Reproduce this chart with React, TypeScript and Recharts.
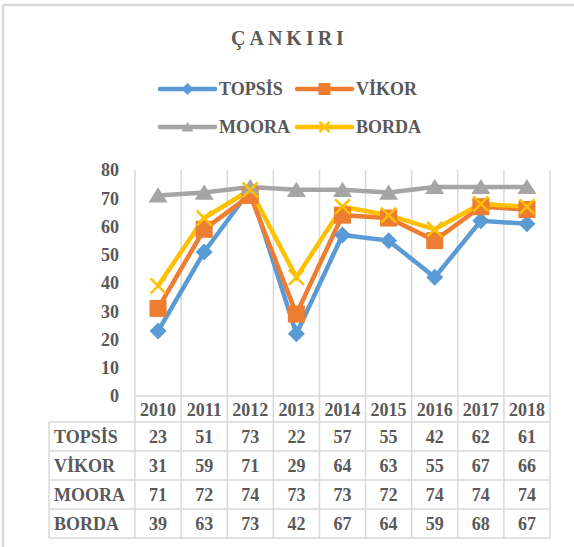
import { CartesianGrid, Line, LineChart, XAxis, YAxis } from "recharts";

const YEARS = ["2010", "2011", "2012", "2013", "2014", "2015", "2016", "2017", "2018"];
const TOPSIS = [23, 51, 73, 22, 57, 55, 42, 62, 61];
const VIKOR = [31, 59, 71, 29, 64, 63, 55, 67, 66];
const MOORA = [71, 72, 74, 73, 73, 72, 74, 74, 74];
const BORDA = [39, 63, 73, 42, 67, 64, 59, 68, 67];
const Y_TICKS = [0, 10, 20, 30, 40, 50, 60, 70, 80];

const SERIES = [
  { key: "TOPSIS", name: "TOPSİS", values: TOPSIS, color: "#5B9BD5", marker: "diamond" },
  { key: "VIKOR", name: "VİKOR", values: VIKOR, color: "#ED7D31", marker: "square" },
  { key: "MOORA", name: "MOORA", values: MOORA, color: "#A5A5A5", marker: "triangle" },
  { key: "BORDA", name: "BORDA", values: BORDA, color: "#FFC000", marker: "x" },
];

const data = YEARS.map((year, i) => {
  const row: Record<string, string | number> = { year };
  SERIES.forEach((s) => {
    row[s.key] = s.values[i];
  });
  return row;
});

const W = 574;
const H = 547;
const PLOT_TOP = 170;
const PLOT_BOTTOM = 396;
const PLOT_LEFT = 135;
const PLOT_RIGHT = 550;
const CELL = (PLOT_RIGHT - PLOT_LEFT) / YEARS.length;
const TABLE_LEFT = 49;
const ROW_H = 29;
const HEADER_H = 26;

const TEXT = "#595959";
const GRID = "#d9d9d9";
const FONT = '"Liberation Serif", "Times New Roman", serif';

function marker(type: string, cx: number, cy: number, s: number, color: string) {
  if (type === "diamond") {
    return (
      <polygon
        points={`${cx},${cy - s} ${cx + s},${cy} ${cx},${cy + s} ${cx - s},${cy}`}
        fill={color}
      />
    );
  }
  if (type === "square") {
    return <rect x={cx - s} y={cy - s} width={s * 2} height={s * 2} fill={color} />;
  }
  if (type === "triangle") {
    return (
      <polygon
        points={`${cx},${cy - s * 0.85} ${cx + s},${cy + s * 0.75} ${cx - s},${cy + s * 0.75}`}
        fill={color}
      />
    );
  }
  return (
    <g stroke={color} strokeWidth={2.5}>
      <line x1={cx - s} y1={cy - s} x2={cx + s} y2={cy + s} />
      <line x1={cx - s} y1={cy + s} x2={cx + s} y2={cy - s} />
    </g>
  );
}

const MARKER_SIZE: Record<string, number> = { diamond: 8.5, square: 8.5, triangle: 9.5, x: 7.5 };

function TableTick(props: any) {
  const { x, y, payload, index } = props;
  const half = CELL / 2;
  const bottom = y + HEADER_H + ROW_H * SERIES.length;
  const textProps = {
    textAnchor: "middle" as const,
    dominantBaseline: "central" as const,
    fill: TEXT,
    fontSize: 18,
    fontWeight: 700,
    fontFamily: FONT,
  };
  return (
    <g>
      <text x={x} y={y + HEADER_H / 2 + 0.5} {...textProps}>
        {payload.value}
      </text>
      {SERIES.map((s, r) => (
        <text key={s.key} x={x} y={y + HEADER_H + ROW_H * r + ROW_H / 2 + 0.5} {...textProps}>
          {s.values[index]}
        </text>
      ))}
      <line x1={x + half} x2={x + half} y1={y} y2={bottom} stroke={GRID} strokeWidth={1.5} />
      {index === 0 ? (
        <g>
          <line x1={x - half} x2={x - half} y1={y} y2={bottom} stroke={GRID} strokeWidth={1.5} />
          <line
            x1={TABLE_LEFT}
            x2={TABLE_LEFT}
            y1={y + HEADER_H}
            y2={bottom}
            stroke={GRID}
            strokeWidth={1.5}
          />
          {[0, 1, 2, 3, 4].map((r) => (
            <line
              key={r}
              x1={TABLE_LEFT}
              x2={PLOT_RIGHT}
              y1={y + HEADER_H + ROW_H * r}
              y2={y + HEADER_H + ROW_H * r}
              stroke={GRID}
              strokeWidth={1.5}
            />
          ))}
          {SERIES.map((s, r) => (
            <text
              key={s.key}
              x={TABLE_LEFT + 5}
              y={y + HEADER_H + ROW_H * r + ROW_H / 2 + 0.5}
              {...textProps}
              textAnchor="start"
            >
              {s.name}
            </text>
          ))}
        </g>
      ) : null}
    </g>
  );
}

const LEG_X = [160, 297];
const LEG_Y = [89, 127];

export default function App() {
  return (
    <div style={{ position: "relative", width: W, height: H, background: "#fff" }}>
      <style>{"body{margin:0}"}</style>
      <LineChart
        width={W}
        height={H}
        data={data}
        margin={{ top: PLOT_TOP, right: W - PLOT_RIGHT, left: 0, bottom: 0 }}
      >
        <CartesianGrid
          horizontal={false}
          stroke={GRID}
          strokeWidth={1.5}
          verticalCoordinatesGenerator={() => YEARS.map((_, i) => PLOT_LEFT + i * CELL).concat([PLOT_RIGHT])}
        />
        <XAxis
          dataKey="year"
          height={H - PLOT_BOTTOM}
          padding={{ left: CELL / 2, right: CELL / 2 }}
          interval={0}
          tickSize={0}
          tickMargin={0}
          tickLine={false}
          axisLine={{ stroke: GRID, strokeWidth: 1.5 }}
          tick={<TableTick />}
        />
        <YAxis
          width={PLOT_LEFT}
          domain={[0, 80]}
          ticks={Y_TICKS}
          interval={0}
          axisLine={false}
          tickLine={false}
          tickSize={0}
          tickMargin={16}
          tick={{ fill: TEXT, fontSize: 18, fontWeight: 700, fontFamily: FONT }}
        />
        {SERIES.map((s) => (
          <Line
            key={s.key}
            dataKey={s.key}
            name={s.name}
            stroke={s.color}
            strokeWidth={4.5}
            isAnimationActive={false}
            activeDot={false}
            dot={(p: any) => (
              <g key={`${s.key}-${p.index}`}>{marker(s.marker, p.cx, p.cy, MARKER_SIZE[s.marker], s.color)}</g>
            )}
          />
        ))}
      </LineChart>
      <svg
        width={W}
        height={H}
        style={{ position: "absolute", left: 0, top: 0, pointerEvents: "none" }}
      >
        <line x1={3} x2={W} y1={5} y2={5} stroke={GRID} strokeWidth={2.5} />
        <line x1={3} x2={3} y1={5} y2={H} stroke={GRID} strokeWidth={2.5} />
        <text
          x={231}
          y={45}
          fill={TEXT}
          fontSize={20}
          fontWeight={700}
          fontFamily={FONT}
          letterSpacing={4}
        >
          ÇANKIRI
        </text>
        {SERIES.map((s, i) => {
          const lx = LEG_X[i % 2];
          const ly = LEG_Y[Math.floor(i / 2)];
          return (
            <g key={s.key}>
              <line x1={lx} x2={lx + 55} y1={ly} y2={ly} stroke={s.color} strokeWidth={4.5} strokeLinecap="round" />
              {marker(s.marker, lx + 27.5, ly, s.marker === "x" ? 5 : 6, s.color)}
              <text
                x={lx + 59}
                y={ly + 6}
                fill={TEXT}
                fontSize={18}
                fontWeight={700}
                fontFamily={FONT}
              >
                {s.name}
              </text>
            </g>
          );
        })}
      </svg>
    </div>
  );
}
